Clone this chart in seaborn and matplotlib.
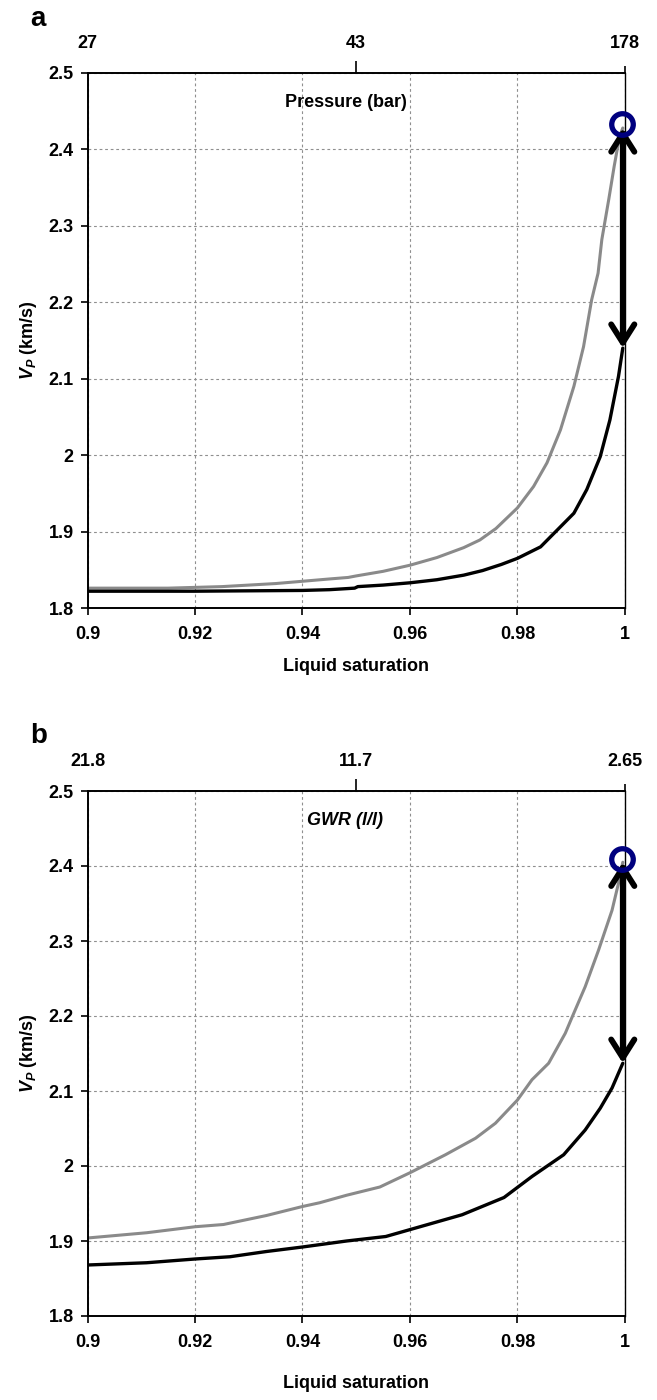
import matplotlib
matplotlib.use("Agg")
import matplotlib.pyplot as plt
from matplotlib import font_manager
import seaborn as sns

# ---- data -------------------------------------------------------------
sat_a_gray = [0.900, 0.910, 0.915, 0.920, 0.925, 0.930, 0.935, 0.940, 0.945, 0.9485,
              0.950, 0.955, 0.960, 0.965, 0.970, 0.973, 0.976, 0.980, 0.983, 0.9855,
              0.988, 0.9905, 0.9923, 0.9938, 0.995, 0.9957, 0.997, 0.998, 0.999, 0.9996]
vp_a_gray = [1.826, 1.826, 1.826, 1.827, 1.828, 1.830, 1.832, 1.835, 1.838, 1.840,
             1.842, 1.848, 1.856, 1.866, 1.879, 1.889, 1.904, 1.931, 1.959, 1.990,
             2.033, 2.090, 2.142, 2.203, 2.238, 2.282, 2.335, 2.378, 2.417, 2.428]
sat_a_black = [0.900, 0.920, 0.940, 0.945, 0.9497, 0.9503, 0.955, 0.960, 0.965, 0.970,
               0.9735, 0.977, 0.980, 0.9843, 0.9874, 0.9905, 0.9929, 0.9954, 0.9972,
               0.9988, 0.9996]
vp_a_black = [1.822, 1.822, 1.823, 1.824, 1.826, 1.828, 1.830, 1.833, 1.837, 1.843,
              1.849, 1.857, 1.865, 1.880, 1.902, 1.924, 1.955, 1.998, 2.046,
              2.103, 2.140]
circle_a = (0.9994, 2.433)

sat_b_gray = [0.900, 0.911, 0.920, 0.9253, 0.9333, 0.940, 0.9432, 0.9482, 0.9544, 0.960,
              0.9666, 0.9722, 0.9759, 0.980, 0.9827, 0.9858, 0.9889, 0.9902, 0.9926,
              0.9951, 0.9976, 0.9988, 0.9996]
vp_b_gray = [1.904, 1.911, 1.919, 1.922, 1.934, 1.946, 1.951, 1.961, 1.972, 1.991,
             2.015, 2.037, 2.057, 2.088, 2.115, 2.137, 2.177, 2.199, 2.239,
             2.288, 2.341, 2.377, 2.405]
sat_b_black = [0.900, 0.911, 0.920, 0.9265, 0.9333, 0.940, 0.9482, 0.9555, 0.9697, 0.9775,
               0.9827, 0.9886, 0.9926, 0.9954, 0.9976, 0.9996]
vp_b_black = [1.868, 1.871, 1.876, 1.879, 1.886, 1.892, 1.900, 1.906, 1.935, 1.958,
              1.986, 2.015, 2.048, 2.077, 2.104, 2.137]
circle_b = (0.9994, 2.409)

x_ticks = [0.90, 0.92, 0.94, 0.96, 0.98, 1.00]
x_ticklabels = ["0.9", "0.92", "0.94", "0.96", "0.98", "1"]
y_ticks = [1.8, 1.9, 2.0, 2.1, 2.2, 2.3, 2.4, 2.5]
y_ticklabels = ["1.8", "1.9", "2", "2.1", "2.2", "2.3", "2.4", "2.5"]

top_ticks = [0.90, 0.95, 1.00]
pressure_labels = ["27", "43", "178"]
gwr_labels = ["21.8", "11.7", "2.65"]

# ---- style ------------------------------------------------------------
sns.set_style("white")
names = {f.name for f in font_manager.fontManager.ttflist}
base_font = "Liberation Sans Narrow" if "Liberation Sans Narrow" in names else "Liberation Sans"
plt.rcParams["font.family"] = [base_font, "DejaVu Sans"]
plt.rcParams["font.weight"] = "bold"
plt.rcParams["text.color"] = "black"
plt.rcParams["axes.labelcolor"] = "black"
plt.rcParams["xtick.color"] = "black"
plt.rcParams["ytick.color"] = "black"
plt.rcParams["mathtext.fontset"] = "custom"
plt.rcParams["mathtext.it"] = f"{base_font}:italic:bold"
plt.rcParams["mathtext.rm"] = f"{base_font}:bold"
plt.rcParams["mathtext.bf"] = f"{base_font}:bold"

GRAY = "#8a8a8a"
NAVY = "#00007f"
FS = 13

fig = plt.figure(figsize=(6.57, 14), dpi=100)
ax_a = fig.add_axes([0.1332, 0.5657, 0.8180, 0.3822])
ax_b = fig.add_axes([0.1332, 0.0600, 0.8180, 0.3750])


def draw_panel(ax, sx_g, vy_g, sx_k, vy_k, circ, top_labels, top_title, title_style,
               letter, xlabel_pad):
    sns.lineplot(x=sx_g, y=vy_g, ax=ax, color=GRAY, lw=2.2, estimator=None, sort=False)
    sns.lineplot(x=sx_k, y=vy_k, ax=ax, color="black", lw=2.4, estimator=None, sort=False)

    # velocity drop between the two curves at full saturation
    ax.annotate("", xy=(sx_k[-1], vy_k[-1]), xytext=(sx_g[-1], vy_g[-1]),
                arrowprops=dict(arrowstyle="<->,head_length=0.6,head_width=0.38",
                                lw=4.2, color="black", mutation_scale=22,
                                shrinkA=0, shrinkB=0), zorder=5)
    ax.plot([circ[0]], [circ[1]], marker="o", ms=15.5, mfc="none", mec=NAVY, mew=3.8,
            zorder=6, clip_on=False)

    ax.set_xlim(0.9, 1.0)
    ax.set_ylim(1.8, 2.5)
    ax.set_xticks(x_ticks)
    ax.set_xticklabels(x_ticklabels)
    ax.set_yticks(y_ticks)
    ax.set_yticklabels(y_ticklabels)
    ax.grid(True, ls=(0, (2.5, 2.5)), lw=0.8, color="#8f8f8f")
    ax.tick_params(axis="both", labelsize=FS, direction="out", length=5, width=1.2,
                   color="black", labelcolor="black", bottom=True, left=True)
    ax.tick_params(axis="x", pad=8)
    ax.tick_params(axis="y", pad=5)
    for side in ("left", "bottom", "top"):
        ax.spines[side].set_linewidth(1.4)
        ax.spines[side].set_color("black")
    ax.spines["right"].set_linewidth(1.0)
    ax.spines["right"].set_color("black")

    ax.set_xlabel("Liquid saturation", fontsize=FS, fontweight="bold", labelpad=xlabel_pad)
    ax.set_ylabel(r"$V_P$ (km/s)", fontsize=FS, fontweight="bold", labelpad=7)

    top = ax.twiny()
    top.set_xlim(ax.get_xlim())
    top.set_xticks(top_ticks)
    top.set_xticklabels(top_labels)
    top.tick_params(axis="x", labelsize=FS, direction="out", length=9, width=1.2, pad=6,
                    color="black", labelcolor="black")
    top.xaxis.get_major_ticks()[0].tick2line.set_visible(False)
    top.xaxis.get_major_ticks()[2].tick2line.set_markersize(5)
    for s in top.spines.values():
        s.set_visible(False)

    ax.text(0.48, 0.944, top_title, transform=ax.transAxes, ha="center", va="center",
            fontsize=FS, fontweight="bold", fontstyle=title_style)
    ax.text(-0.107, 1.10 if letter == "a" else 1.105, letter, transform=ax.transAxes,
            ha="left", va="center", fontsize=20, fontweight="bold")


draw_panel(ax_a, sat_a_gray, vp_a_gray, sat_a_black, vp_a_black, circle_a,
           pressure_labels, "Pressure (bar)", "normal", "a", 11)
draw_panel(ax_b, sat_b_gray, vp_b_gray, sat_b_black, vp_b_black, circle_b,
           gwr_labels, "GWR (l/l)", "italic", "b", 17)

fig.savefig("out.png", dpi=100)
